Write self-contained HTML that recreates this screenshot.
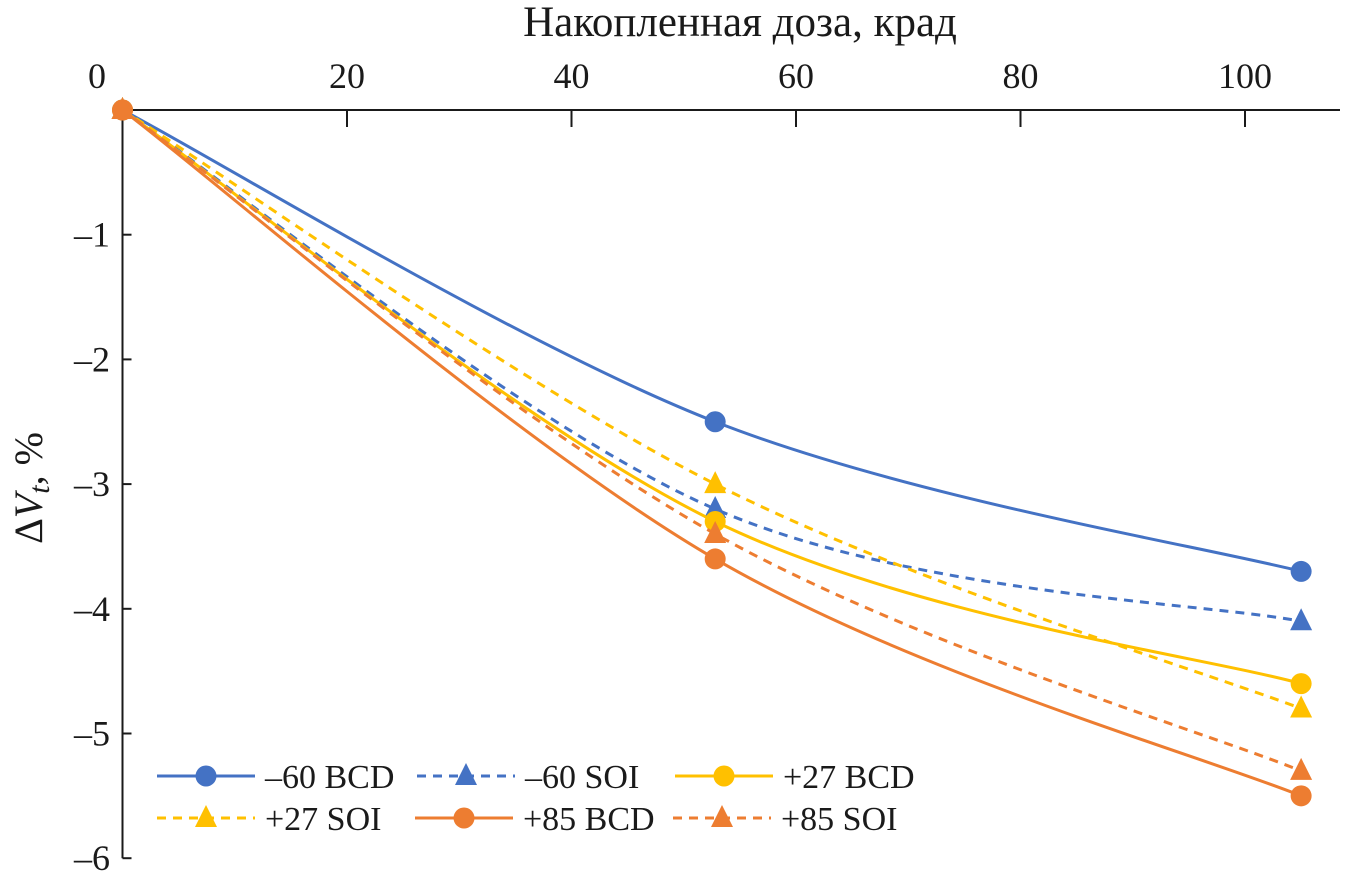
<!DOCTYPE html>
<html><head><meta charset="utf-8"><style>
html,body{margin:0;padding:0;background:#fff}
svg text{font-family:"Liberation Serif",serif;fill:#1a1a1a}
</style></head><body>
<svg id="chart" width="1357" height="883" xmlns="http://www.w3.org/2000/svg">
<g id="axes"></g><g id="series"></g><g id="legend"></g>
</svg>
<script>
const xValues=[0,52.8,105];
const sMinus60BCD=[0,-2.5,-3.7];
const sMinus60SOI=[0,-3.2,-4.1];
const sPlus27BCD=[0,-3.3,-4.6];
const sPlus27SOI=[0,-3.0,-4.8];
const sPlus85BCD=[0,-3.6,-5.5];
const sPlus85SOI=[0,-3.4,-5.3];
const seriesNames=["–60 BCD","–60 SOI","+27 BCD","+27 SOI","+85 BCD","+85 SOI"];
const xTicks=[0,20,40,60,80,100];
const yTicks=[0,-1,-2,-3,-4,-5,-6];
const yTickLabels=["0","–1","–2","–3","–4","–5","–6"];

const NS="http://www.w3.org/2000/svg";
const X=v=>122.5+v*11.225;
const Y=v=>110-v*124.7;
function mk(tag,attrs,parent,text){const e=document.createElementNS(NS,tag);for(const k in attrs)e.setAttribute(k,attrs[k]);if(text!==undefined)e.textContent=text;parent.appendChild(e);return e;}
const axes=document.getElementById('axes'),ser=document.getElementById('series'),leg=document.getElementById('legend');

let xa=mk('line',{x1:X(0),y1:Y(0),x2:1340,y2:Y(0),stroke:'#1a1a1a','stroke-width':2},axes);


let ya=mk('line',{x1:X(0),y1:Y(0),x2:X(0),y2:Y(-6),stroke:'#1a1a1a','stroke-width':2},axes);


xTicks.forEach(t=>{
  if(t>0){let tk=mk('line',{x1:X(t),y1:Y(0),x2:X(t),y2:Y(0)+17,stroke:'#1a1a1a','stroke-width':2},axes);
  
  }
  let lb=mk('text',{x:t===0?97:X(t),y:88,'text-anchor':'middle','font-size':36},axes,String(t));
  
  
});
yTicks.forEach((t,i)=>{
  let tk=mk('line',{x1:X(0),y1:Y(t),x2:X(0)+9,y2:Y(t),stroke:'#1a1a1a','stroke-width':2},axes);
  
  
  if(t<0){let lb=mk('text',{x:110,y:Y(t)+12,'text-anchor':'end','font-size':36},axes,yTickLabels[i]);
  
  }
});
let xt=mk('text',{x:740,y:36,'text-anchor':'middle','font-size':43},axes,'Накопленная доза, крад');


let yt=mk('text',{transform:'translate(42,488) rotate(-90)','text-anchor':'middle','font-size':40},axes);


mk('tspan',{},yt,'Δ');mk('tspan',{'font-style':'italic'},yt,'V');mk('tspan',{'font-style':'italic','font-size':30,dy:7},yt,'t');mk('tspan',{dy:-7},yt,', %');

const blue='#4472C4',yel='#FFC000',org='#ED7D31';
const defs=[[sMinus60BCD,blue,false,'c'],[sMinus60SOI,blue,true,'t'],[sPlus27BCD,yel,false,'c'],[sPlus27SOI,yel,true,'t'],[sPlus85BCD,org,false,'c'],[sPlus85SOI,org,true,'t']];
function marker(type,cx,cy,col,parent){
  if(type==='c')return mk('circle',{cx:cx,cy:cy,r:10.5,fill:col},parent);
  return mk('polygon',{points:`${cx},${cy-13} ${cx-11},${cy+9} ${cx+11},${cy+9}`,fill:col},parent);
}
function smooth(p){
  let d=`M${p[0][0]},${p[0][1]}`;
  for(let i=0;i<p.length-1;i++){
    const p0=p[Math.max(0,i-1)],p1=p[i],p2=p[i+1],p3=p[Math.min(p.length-1,i+2)];
    const c1=[p1[0]+(p2[0]-p0[0])/6,p1[1]+(p2[1]-p0[1])/6];
    const c2=[p2[0]-(p3[0]-p1[0])/6,p2[1]-(p3[1]-p1[1])/6];
    d+=` C${c1[0]},${c1[1]} ${c2[0]},${c2[1]} ${p2[0]},${p2[1]}`;
  }
  return d;
}
defs.forEach((s,k)=>{
  const g=mk('g',{},ser);
  
  
  const pts=xValues.map((x,i)=>[X(x),Y(s[0][i])]);
  const path=mk('path',{d:smooth(pts),fill:'none',stroke:s[1],'stroke-width':3,'stroke-dasharray':s[2]?'9 7':'none'},g);
  
  
  pts.forEach(p=>{const m=marker(s[3],p[0],p[1],s[1],g);
    
    });
});
const legPos=[[157,776],[417,776],[675,776],[157,818],[415,818],[673,818]];
defs.forEach((s,k)=>{
  const [lx,ly]=legPos[k];
  const g=mk('g',{},leg);
  
  
  mk('line',{x1:lx,y1:ly,x2:lx+98,y2:ly,stroke:s[1],'stroke-width':3,'stroke-dasharray':s[2]?'9 7':'none'},g);
  marker(s[3],lx+49,ly,s[1],g);
  mk('text',{x:lx+108,y:ly+12,'font-size':34},g,seriesNames[k]);
});
</script>
</body></html>
